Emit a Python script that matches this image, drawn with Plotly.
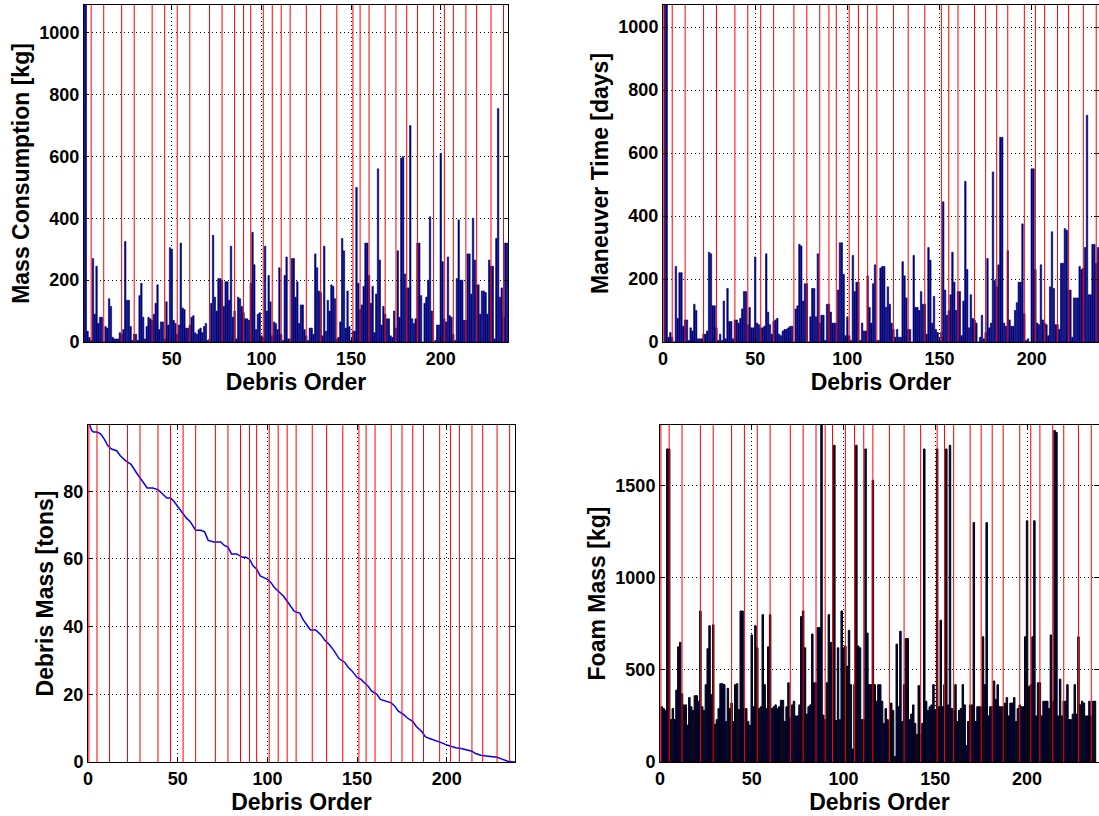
import plotly.graph_objects as go

W, H = 1099, 816

debris_order = list(range(1, 238))

mass_consumption = [
    1200, 1200, 35, 15, 5, 270, 90, 245, 60, 80,
    80, 0, 50, 45, 140, 115, 15, 10, 10, 10,
    30, 25, 40, 325, 135, 135, 50, 5, 25, 25,
    5, 150, 190, 80, 10, 50, 80, 75, 70, 90,
    125, 185, 40, 65, 65, 10, 130, 55, 305, 300,
    70, 60, 25, 55, 320, 110, 105, 45, 45, 55,
    80, 85, 30, 25, 40, 45, 30, 50, 60, 5,
    10, 125, 345, 145, 100, 205, 205, 200, 115, 195,
    195, 135, 310, 80, 100, 10, 145, 140, 115, 95,
    75, 75, 70, 190, 355, 250, 40, 90, 95, 20,
    15, 310, 100, 215, 130, 20, 65, 60, 40, 240,
    25, 5, 215, 275, 10, 10, 270, 270, 145, 195,
    60, 120, 120, 40, 20, 5, 45, 45, 25, 285,
    240, 165, 160, 20, 310, 35, 135, 100, 185, 180,
    140, 10, 15, 65, 335, 295, 45, 165, 50, 5,
    35, 35, 500, 190, 105, 120, 180, 320, 320, 215,
    125, 180, 30, 155, 560, 265, 55, 115, 90, 75,
    75, 20, 15, 100, 45, 295, 80, 595, 600, 220,
    175, 175, 700, 75, 60, 75, 320, 320, 150, 0,
    125, 145, 200, 405, 100, 0, 5, 55, 55, 610,
    260, 75, 65, 275, 85, 80, 25, 5, 205, 395,
    200, 200, 70, 70, 285, 285, 155, 400, 265, 185,
    185, 90, 165, 165, 160, 90, 265, 245, 245, 10,
    335, 755, 145, 175, 80, 320, 320,
]

maneuver_time = [
    1100, 1100, 15, 30, 15, 0, 240, 75, 220, 220,
    50, 70, 70, 5, 45, 35, 120, 100, 10, 10,
    10, 25, 25, 35, 285, 280, 115, 115, 45, 5,
    25, 5, 130, 10, 170, 65, 65, 10, 70, 70,
    60, 75, 105, 160, 160, 55, 110, 45, 45, 270,
    60, 55, 45, 45, 50, 280, 95, 55, 25, 65,
    70, 75, 25, 20, 35, 40, 40, 45, 50, 50,
    0, 105, 115, 310, 305, 130, 185, 185, 0, 80,
    170, 170, 80, 280, 60, 85, 85, 5, 120, 120,
    95, 60, 60, 60, 165, 315, 315, 215, 20, 80,
    20, 5, 275, 160, 190, 190, 5, 60, 35, 35,
    210, 110, 60, 185, 245, 5, 5, 235, 240, 240,
    110, 175, 120, 60, 40, 15, 40, 15, 15, 255,
    210, 140, 40, 40, 0, 275, 110, 110, 100, 160,
    120, 120, 25, 300, 260, 60, 145, 40, 30, 5,
    30, 445, 165, 85, 100, 150, 285, 190, 100, 160,
    160, 20, 130, 510, 230, 45, 150, 75, 70, 60,
    0, 15, 85, 10, 30, 265, 45, 60, 540, 195,
    175, 245, 650, 650, 60, 50, 290, 70, 50, 50,
    100, 125, 190, 190, 375, 90, 5, 10, 0, 550,
    550, 230, 60, 55, 245, 70, 60, 55, 20, 175,
    350, 170, 55, 55, 40, 250, 250, 360, 355, 165,
    165, 15, 140, 140, 140, 240, 230, 235, 300, 720,
    150, 150, 310, 310, 250, 300, 280,
]

foam_mass = [
    300, 290, 280, 1700, 1700, 230, 290, 230, 390, 625,
    650, 370, 310, 310, 200, 350, 300, 280, 360, 360,
    330, 820, 300, 280, 420, 615, 740, 365, 745, 205,
    230, 290, 425, 425, 420, 220, 400, 290, 320, 220,
    420, 425, 285, 820, 820, 290, 290, 220, 200, 690,
    300, 740, 620, 290, 300, 800, 420, 290, 625, 800,
    290, 300, 310, 290, 300, 335, 335, 220, 300, 430,
    240, 310, 330, 250, 250, 310, 790, 820, 620, 260,
    300, 310, 695, 430, 430, 730, 730, 1850, 255, 230,
    430, 800, 650, 600, 1720, 225, 620, 230, 820, 620,
    630, 520, 715, 420, 70, 420, 1720, 630, 620, 230,
    230, 1700, 700, 420, 420, 1530, 420, 330, 420, 420,
    330, 210, 290, 230, 220, 320, 280, 30, 640, 300,
    710, 220, 420, 670, 670, 230, 260, 310, 210, 150,
    415, 150, 210, 1700, 330, 280, 300, 310, 420, 280,
    1700, 300, 770, 300, 420, 1700, 310, 1720, 290, 280,
    420, 220, 280, 290, 420, 310, 90, 220, 310, 310,
    1300, 220, 300, 300, 300, 680, 420, 1300, 250, 300,
    300, 440, 340, 420, 300, 300, 300, 320, 350, 250,
    320, 320, 350, 220, 290, 310, 300, 300, 680, 1310,
    410, 420, 680, 1310, 250, 430, 430, 250, 330, 330,
    330, 290, 690, 330, 1800, 1790, 250, 450, 250, 330,
    330, 420, 230, 230, 260, 420, 260, 680, 310, 330,
    320, 250, 250, 330, 250, 330, 330,
]

mass_order = [
    1, 2, 3, 5, 7, 9, 11, 13, 16, 18, 21, 24, 27, 29, 31, 33, 36, 39, 41, 44,
    46, 48, 50, 52, 55, 57, 60, 63, 65, 67, 70, 72, 74, 76, 78, 80, 83, 86, 88, 90,
    92, 94, 96, 98, 100, 102, 104, 107, 109, 111, 113, 115, 118, 120, 122, 124, 127, 130, 132, 134,
    137, 140, 143, 145, 147, 150, 152, 154, 156, 158, 161, 163, 166, 169, 171, 173, 176, 178, 181, 183,
    186, 188, 190, 193, 196, 198, 200, 203, 205, 208, 211, 214, 216, 219, 222, 225, 228, 230, 232, 234,
    236, 237, 238,
]
debris_mass_tons = [
    99.5, 98, 97.5, 97.5, 97, 95.5, 93.5, 92.5, 92, 90.5, 89, 88, 85.5, 84, 82.5, 81, 81, 80.5, 79.5, 78,
    78, 77, 75.5, 74, 72, 71, 68.5, 68.5, 68, 65.5, 65, 65, 65, 64, 63.5, 61.5, 61.5, 60.5, 60.5, 60,
    58, 57, 55, 54.5, 54, 53, 51.5, 50, 49, 47.5, 46, 44.5, 44, 42, 40.5, 39, 39, 37.5, 36, 35,
    33, 30.5, 29.5, 28, 27, 25, 24.5, 23.5, 22.5, 21, 20, 18.5, 18, 17.5, 16.5, 15, 14, 13, 12, 10.5,
    9, 7.5, 7, 6.5, 6, 5.5, 5, 4.5, 4.2, 4, 3.5, 3.2, 2.5, 2, 1.8, 1.7, 1.4, 1, 0.5, 0.2,
    0.1, 0, 0,
]

mission_breaks = [0.5, 5, 12, 22, 29, 39, 46, 53, 60, 71, 78, 85, 90, 94, 101, 106, 111, 116,
                  125, 133, 142, 151, 155, 160, 169, 175, 181, 187, 196, 202, 207, 214, 220,
                  228, 235]

NAVY = '#00008B'
FONT = 'Liberation Sans'

fig = go.Figure()
fig.add_trace(go.Bar(x=debris_order, y=mass_consumption, xaxis='x', yaxis='y',
                     marker=dict(color=NAVY, line=dict(width=0.6, color='#00006A')), width=0.8))
fig.add_trace(go.Bar(x=debris_order, y=maneuver_time, xaxis='x2', yaxis='y2',
                     marker=dict(color=NAVY, line=dict(width=0.6, color='#00006A')), width=0.8))
fig.add_trace(go.Scatter(x=mass_order, y=debris_mass_tons, xaxis='x3', yaxis='y3', mode='lines',
                         line=dict(color='#0000FF', width=1.5)))
fig.add_trace(go.Bar(x=debris_order, y=foam_mass, xaxis='x4', yaxis='y4',
                     marker=dict(color=NAVY, line=dict(width=1, color='black')), width=0.8))

def dx(a, b):
    return [a / W, min(b / W, 1.0)]

def dy(top, bottom):
    return [1 - bottom / H, 1 - top / H]

tickfont = dict(family=FONT, size=18, color='black', weight='bold')
titlefont = dict(family=FONT, size=23, color='black', weight='bold')

def xax(domain, rng, anchor):
    return dict(domain=domain, range=rng, anchor=anchor, tick0=0, dtick=50,
                showline=True, linecolor='black', linewidth=1, mirror='ticks',
                ticks='inside', ticklen=5, tickcolor='black', automargin=False,
                showgrid=True, gridcolor='black', griddash='1px,3px', gridwidth=1,
                zeroline=False, tickfont=tickfont,
                title=dict(text='Debris Order', font=titlefont, standoff=4))

def yax(domain, rng, anchor, dtick, title):
    return dict(domain=domain, range=rng, anchor=anchor, tick0=0, dtick=dtick,
                showline=True, linecolor='black', linewidth=1, mirror='ticks',
                ticks='inside', ticklen=5, tickcolor='black', automargin=False,
                showgrid=True, gridcolor='black', griddash='1px,3px', gridwidth=1,
                zeroline=False, tickfont=tickfont,
                title=dict(text=title, font=titlefont, standoff=3))

fig.update_layout(
    width=W, height=H, margin=dict(l=0, r=0, t=0, b=0, autoexpand=False),
    paper_bgcolor='white', plot_bgcolor='white', showlegend=False,
    xaxis=xax(dx(84, 508), [1, 237.5], 'y'),
    yaxis=yax(dy(5, 342), [0, 1090], 'x', 200, 'Mass Consumption [kg]'),
    xaxis2=xax(dx(663, 1099), [0, 236.5], 'y2'),
    yaxis2=yax(dy(5, 342), [0, 1070], 'x2', 200, 'Maneuver Time [days]'),
    xaxis3=xax(dx(88, 515), [0, 238], 'y3'),
    yaxis3=yax(dy(425, 762), [0, 99.6], 'x3', 20, 'Debris Mass [tons]'),
    xaxis4=xax(dx(660, 1099), [0, 239.2], 'y4'),
    yaxis4=yax(dy(425, 762), [0, 1830], 'x4', 500, 'Foam Mass [kg]'),
)

shapes = []
for xr, yr in [('x', 'y'), ('x2', 'y2'), ('x3', 'y3'), ('x4', 'y4')]:
    for v in mission_breaks:
        shapes.append(dict(type='line', xref=xr, yref=yr + ' domain', x0=v, x1=v, y0=0, y1=1,
                           line=dict(color='#FF0000', width=1), layer='above'))
fig.update_layout(shapes=shapes)

fig.write_html('out.html', config={'displayModeBar': False},
               post_script="document.body.style.margin='0';document.body.style.overflow='hidden';")
